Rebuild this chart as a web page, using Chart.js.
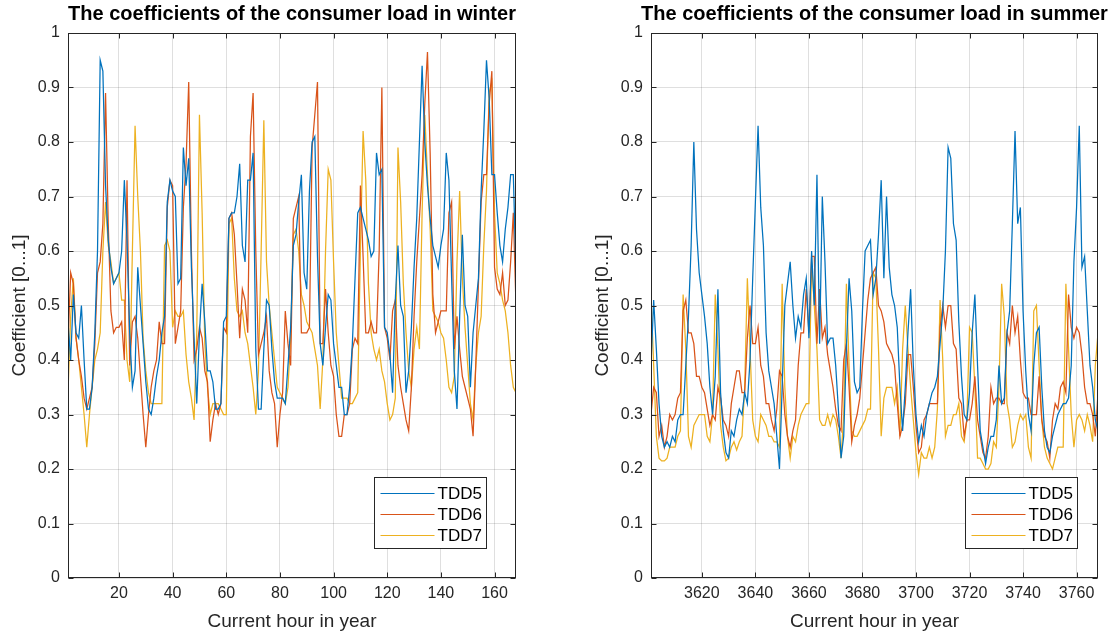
<!DOCTYPE html>
<html>
<head>
<meta charset="utf-8">
<script src="https://cdn.jsdelivr.net/npm/chart.js@4.4.0/dist/chart.umd.min.js"></script>
<style>
  html, body { margin: 0; padding: 0; background: #fff; }
  body { width: 1117px; height: 637px; position: relative; overflow: hidden; }
  .panel { position: absolute; top: 0; }
</style>
</head>
<body>
<div class="panel" style="left:0"><canvas id="winterChart" width="560" height="637"></canvas></div>
<div class="panel" style="left:560px"><canvas id="summerChart" width="557" height="637"></canvas></div>
<script>
// hourly load coefficients for one week of winter and one week of summer
const seriesNames = ['TDD5', 'TDD6', 'TDD7'];
const seriesColors = ['#0072BD', '#D95319', '#EDB120'];

const winterFirstHour = 1;
const summerFirstHour = 3601;

const winterTicks = [20, 40, 60, 80, 100, 120, 140, 160];
const summerTicks = [3620, 3640, 3660, 3680, 3700, 3720, 3740, 3760];
const yTicks = [0, 0.1, 0.2, 0.3, 0.4, 0.5, 0.6, 0.7, 0.8, 0.9, 1];
const yTickLabels = ['0', '0.1', '0.2', '0.3', '0.4', '0.5', '0.6', '0.7', '0.8', '0.9', '1'];

const winterTdd5 = [
  0.47, 0.40, 0.52, 0.45, 0.44, 0.50, 0.40, 0.31, 0.31, 0.35, 0.45, 0.60,
  0.95, 0.93, 0.72, 0.62, 0.57, 0.54, 0.55, 0.56, 0.60, 0.73, 0.62, 0.45,
  0.35, 0.38, 0.57, 0.50, 0.43, 0.36, 0.31, 0.30, 0.33, 0.37, 0.40, 0.45,
  0.48, 0.69, 0.73, 0.71, 0.70, 0.54, 0.55, 0.79, 0.72, 0.77, 0.57, 0.44,
  0.32, 0.45, 0.54, 0.47, 0.38, 0.38, 0.36, 0.31, 0.31, 0.32, 0.47, 0.48,
  0.66, 0.67, 0.67, 0.70, 0.76, 0.61, 0.58, 0.73, 0.73, 0.78, 0.42, 0.31,
  0.31, 0.42, 0.51, 0.50, 0.42, 0.36, 0.33, 0.33, 0.33, 0.32, 0.39, 0.46,
  0.61, 0.63, 0.69, 0.74, 0.56, 0.53, 0.71, 0.80, 0.81, 0.59, 0.43, 0.39,
  0.46, 0.52, 0.51, 0.43, 0.39, 0.35, 0.35, 0.30, 0.30, 0.35, 0.43, 0.55,
  0.67, 0.68, 0.66, 0.64, 0.62, 0.59, 0.60, 0.78, 0.74, 0.75, 0.46, 0.45,
  0.41, 0.34, 0.51, 0.61, 0.50, 0.48, 0.34, 0.38, 0.46, 0.57, 0.66, 0.80,
  0.94, 0.80, 0.72, 0.66, 0.61, 0.59, 0.57, 0.61, 0.64, 0.78, 0.73, 0.55,
  0.38, 0.31, 0.48, 0.63, 0.50, 0.48, 0.35, 0.45, 0.50, 0.55, 0.71, 0.82,
  0.95, 0.88, 0.74, 0.74, 0.67, 0.61, 0.58, 0.64, 0.68, 0.74, 0.74, 0.56
];
const winterTdd6 = [
  0.43, 0.56, 0.54, 0.44, 0.40, 0.37, 0.33, 0.31, 0.33, 0.35, 0.43, 0.56,
  0.58, 0.65, 0.89, 0.65, 0.49, 0.45, 0.46, 0.46, 0.47, 0.40, 0.73, 0.39,
  0.47, 0.48, 0.44, 0.37, 0.30, 0.24, 0.30, 0.35, 0.38, 0.40, 0.47, 0.43,
  0.43, 0.68, 0.73, 0.72, 0.43, 0.46, 0.49, 0.68, 0.76, 0.91, 0.60, 0.40,
  0.42, 0.46, 0.44, 0.38, 0.36, 0.25, 0.29, 0.32, 0.30, 0.32, 0.46, 0.45,
  0.66, 0.67, 0.63, 0.54, 0.44, 0.53, 0.51, 0.45, 0.81, 0.89, 0.60, 0.41,
  0.43, 0.45, 0.48, 0.38, 0.34, 0.32, 0.24, 0.30, 0.34, 0.49, 0.43, 0.39,
  0.66, 0.68, 0.70, 0.45, 0.45, 0.45, 0.46, 0.79, 0.85, 0.91, 0.43, 0.43,
  0.53, 0.45, 0.39, 0.37, 0.30, 0.26, 0.26, 0.30, 0.30, 0.32, 0.42, 0.44,
  0.43, 0.72, 0.59, 0.45, 0.45, 0.47, 0.45, 0.45, 0.60, 0.90, 0.46, 0.44,
  0.40, 0.49, 0.51, 0.39, 0.35, 0.32, 0.29, 0.27, 0.35, 0.48, 0.58, 0.66,
  0.74, 0.87, 0.965, 0.78, 0.52, 0.45, 0.47, 0.49, 0.49, 0.49, 0.67, 0.69,
  0.42, 0.48, 0.42, 0.37, 0.35, 0.33, 0.31, 0.26, 0.39, 0.54, 0.69, 0.74,
  0.74, 0.87, 0.93, 0.57, 0.53, 0.52, 0.56, 0.50, 0.51, 0.58, 0.67, 0.50
];
const winterTdd7 = [
  0.34, 0.48, 0.55, 0.44, 0.40, 0.35, 0.30, 0.24, 0.30, 0.35, 0.40, 0.42,
  0.45, 0.60, 0.69, 0.61, 0.58, 0.54, 0.55, 0.56, 0.51, 0.51, 0.40, 0.36,
  0.60, 0.83, 0.70, 0.60, 0.44, 0.38, 0.34, 0.32, 0.32, 0.32, 0.32, 0.32,
  0.61, 0.62, 0.60, 0.46, 0.49, 0.48, 0.48, 0.49, 0.41, 0.36, 0.33, 0.29,
  0.45, 0.85, 0.67, 0.43, 0.35, 0.30, 0.32, 0.32, 0.32, 0.31, 0.30, 0.30,
  0.65, 0.66, 0.55, 0.49, 0.48, 0.49, 0.45, 0.43, 0.39, 0.35, 0.30, 0.38,
  0.60, 0.84, 0.58, 0.50, 0.45, 0.40, 0.35, 0.34, 0.33, 0.32, 0.35, 0.44,
  0.63, 0.64, 0.60, 0.52, 0.50, 0.47, 0.46, 0.45, 0.42, 0.39, 0.31, 0.40,
  0.60, 0.75, 0.73, 0.58, 0.45, 0.39, 0.33, 0.33, 0.33, 0.32, 0.32, 0.33,
  0.34, 0.60, 0.82, 0.73, 0.54, 0.45, 0.42, 0.40, 0.42, 0.38, 0.36, 0.32,
  0.29, 0.30, 0.33, 0.79, 0.69, 0.54, 0.45, 0.38, 0.35, 0.42, 0.46, 0.42,
  0.67, 0.85, 0.74, 0.64, 0.49, 0.48, 0.47, 0.45, 0.44, 0.40, 0.35, 0.34,
  0.37, 0.58, 0.71, 0.55, 0.46, 0.39, 0.32, 0.29, 0.39, 0.45, 0.48, 0.61,
  0.71, 0.89, 0.91, 0.67, 0.56, 0.54, 0.51, 0.49, 0.45, 0.39, 0.35, 0.34
];

const summerTdd5 = [
  0.39, 0.51, 0.42, 0.32, 0.26, 0.24, 0.25, 0.24, 0.26, 0.25, 0.29, 0.30,
  0.30, 0.39, 0.48, 0.61, 0.80, 0.64, 0.56, 0.52, 0.48, 0.43, 0.35, 0.30,
  0.37, 0.53, 0.34, 0.27, 0.23, 0.22, 0.27, 0.26, 0.29, 0.31, 0.30, 0.34,
  0.32, 0.40, 0.55, 0.69, 0.83, 0.68, 0.61, 0.45, 0.38, 0.35, 0.32, 0.26,
  0.20, 0.35, 0.50, 0.54, 0.58, 0.50, 0.44, 0.48, 0.46, 0.52, 0.55, 0.44,
  0.60, 0.50, 0.74, 0.43, 0.70, 0.58, 0.43, 0.44, 0.44, 0.39, 0.31, 0.22,
  0.26, 0.42, 0.55, 0.49, 0.36, 0.34, 0.35, 0.49, 0.60, 0.61, 0.62, 0.52,
  0.55, 0.63, 0.73, 0.55, 0.70, 0.57, 0.52, 0.50, 0.46, 0.35, 0.27, 0.35,
  0.45, 0.53, 0.39, 0.30, 0.25, 0.28, 0.26, 0.30, 0.32, 0.34, 0.35, 0.37,
  0.43, 0.49, 0.60, 0.79, 0.77, 0.65, 0.62, 0.47, 0.37, 0.30, 0.29, 0.34,
  0.45, 0.52, 0.39, 0.27, 0.24, 0.21, 0.24, 0.26, 0.26, 0.29, 0.39, 0.32,
  0.33, 0.45, 0.49, 0.65, 0.82, 0.65, 0.68, 0.49, 0.38, 0.30, 0.27, 0.39,
  0.45, 0.46, 0.35, 0.27, 0.24, 0.23, 0.26, 0.28, 0.30, 0.31, 0.32, 0.32,
  0.33, 0.39, 0.58, 0.68, 0.83, 0.57, 0.59, 0.49, 0.39, 0.35, 0.29, 0.27
];
const summerTdd6 = [
  0.30, 0.35, 0.34, 0.26, 0.28, 0.24, 0.26, 0.30, 0.29, 0.30, 0.33, 0.34,
  0.49, 0.51, 0.45, 0.45, 0.43, 0.37, 0.37, 0.35, 0.34, 0.31, 0.28, 0.30,
  0.29, 0.35, 0.33, 0.29, 0.28, 0.26, 0.32, 0.35, 0.38, 0.38, 0.34, 0.34,
  0.44, 0.50, 0.43, 0.43, 0.46, 0.39, 0.37, 0.32, 0.32, 0.29, 0.27, 0.31,
  0.38, 0.37, 0.30, 0.26, 0.24, 0.27, 0.29, 0.39, 0.45, 0.45, 0.53, 0.45,
  0.59, 0.59, 0.43, 0.53, 0.44, 0.46, 0.41, 0.38, 0.35, 0.31, 0.28, 0.27,
  0.40, 0.43, 0.35, 0.25, 0.28, 0.30, 0.33, 0.39, 0.45, 0.51, 0.55, 0.56,
  0.57, 0.50, 0.49, 0.47, 0.43, 0.42, 0.41, 0.39, 0.32, 0.26, 0.28, 0.32,
  0.41, 0.41, 0.35, 0.28, 0.23, 0.24, 0.29, 0.30, 0.32, 0.32, 0.32, 0.32,
  0.46, 0.50, 0.46, 0.50, 0.50, 0.43, 0.42, 0.33, 0.32, 0.26, 0.29, 0.29,
  0.32, 0.37, 0.29, 0.26, 0.23, 0.22, 0.26, 0.35, 0.32, 0.33, 0.33, 0.32,
  0.32, 0.45, 0.43, 0.50, 0.45, 0.48, 0.40, 0.34, 0.33, 0.33, 0.30, 0.30,
  0.30, 0.37, 0.29, 0.26, 0.25, 0.22, 0.29, 0.32, 0.31, 0.35, 0.36, 0.34,
  0.52, 0.46, 0.44, 0.46, 0.45, 0.41, 0.35, 0.32, 0.32, 0.30, 0.26, 0.34
];
const summerTdd7 = [
  0.52, 0.39, 0.26, 0.22, 0.215, 0.215, 0.22, 0.24, 0.24, 0.24, 0.26, 0.27,
  0.52, 0.42, 0.26, 0.24, 0.28, 0.29, 0.30, 0.30, 0.30, 0.26, 0.25, 0.30,
  0.52, 0.42, 0.28, 0.24, 0.215, 0.22, 0.24, 0.25, 0.235, 0.25, 0.26, 0.35,
  0.55, 0.42, 0.29, 0.26, 0.25, 0.30, 0.29, 0.28, 0.26, 0.26, 0.25, 0.25,
  0.24, 0.54, 0.35, 0.26, 0.22, 0.26, 0.25, 0.28, 0.30, 0.31, 0.32, 0.32,
  0.58, 0.50, 0.42, 0.29, 0.28, 0.28, 0.30, 0.28, 0.30, 0.29, 0.26, 0.22,
  0.30, 0.54, 0.39, 0.27, 0.26, 0.26, 0.27, 0.28, 0.29, 0.31, 0.31, 0.56,
  0.55, 0.42, 0.26, 0.33, 0.35, 0.35, 0.35, 0.32, 0.35, 0.26, 0.42, 0.50,
  0.42, 0.35, 0.29, 0.23, 0.19, 0.23, 0.22, 0.22, 0.24, 0.22, 0.24, 0.31,
  0.51, 0.40, 0.26, 0.28, 0.28, 0.30, 0.30, 0.32, 0.26, 0.25, 0.29, 0.46,
  0.45, 0.35, 0.22, 0.22, 0.21, 0.20, 0.20, 0.21, 0.25, 0.24, 0.35, 0.54,
  0.48, 0.32, 0.29, 0.24, 0.25, 0.28, 0.30, 0.29, 0.30, 0.24, 0.22, 0.49,
  0.50, 0.39, 0.29, 0.24, 0.22, 0.21, 0.20, 0.22, 0.24, 0.24, 0.24, 0.54,
  0.42, 0.30, 0.24, 0.29, 0.30, 0.29, 0.27, 0.30, 0.28, 0.25, 0.39, 0.45
];

const FONT = '"Liberation Sans", Arial, Helvetica, sans-serif';
const AXIS_COLOR = '#262626';
Chart.defaults.font.family = FONT;
Chart.defaults.color = AXIS_COLOR;

// box, inward ticks, bold title and the legend in the lower right corner
const framePlugin = {
  id: 'frame',
  afterDraw(chart, args, opts) {
    const { ctx, chartArea: a, scales: { x, y } } = chart;
    const L = Math.round(a.left) + 0.5, R = Math.round(a.right) - 0.5;
    const T = Math.round(a.top) + 0.5, B = Math.round(a.bottom) - 0.5;
    ctx.save();
    ctx.strokeStyle = AXIS_COLOR;
    ctx.lineWidth = 1;
    ctx.strokeRect(L, T, R - L, B - T);
    const len = 5;
    ctx.beginPath();
    x.ticks.forEach(t => {
      const px = Math.round(x.getPixelForValue(t.value)) + 0.5;
      ctx.moveTo(px, B); ctx.lineTo(px, B - len);
      ctx.moveTo(px, T); ctx.lineTo(px, T + len);
    });
    y.ticks.forEach(t => {
      const py = Math.round(y.getPixelForValue(t.value)) + 0.5;
      ctx.moveTo(L, py); ctx.lineTo(L + len, py);
      ctx.moveTo(R, py); ctx.lineTo(R - len, py);
    });
    ctx.stroke();

    ctx.fillStyle = '#000';
    ctx.font = 'bold 20px ' + FONT;
    ctx.textAlign = 'center';
    ctx.textBaseline = 'middle';
    ctx.fillText(opts.title, (a.left + a.right) / 2, 14);

    // legend
    const w = 112, h = 71;
    const lx = Math.round(a.right) - opts.legendGap - w + 0.5;
    const ly = Math.round(a.bottom) - 30 - h + 0.5;
    ctx.fillStyle = '#fff';
    ctx.fillRect(lx, ly, w, h);
    ctx.strokeStyle = AXIS_COLOR;
    ctx.strokeRect(lx, ly, w, h);
    ctx.font = '17px ' + FONT;
    ctx.textAlign = 'left';
    chart.data.datasets.forEach((ds, i) => {
      const cy = Math.round(ly + 15 + i * 21) + 0.5;
      ctx.strokeStyle = ds.borderColor;
      ctx.lineWidth = 1.2;
      ctx.beginPath();
      ctx.moveTo(lx + 6, cy); ctx.lineTo(lx + 60, cy);
      ctx.stroke();
      ctx.fillStyle = '#000';
      ctx.fillText(ds.label, lx + 63, cy + 1);
    });
    ctx.restore();
  }
};

function buildChart(canvasId, title, firstHour, tickValues, values, box) {
  const datasets = values.map((vals, i) => ({
    label: seriesNames[i],
    data: vals.map((v, k) => ({ x: firstHour + k, y: v })),
    borderColor: seriesColors[i],
    borderWidth: 1.25,
    pointRadius: 0,
    tension: 0,
    fill: false
  }));
  return new Chart(document.getElementById(canvasId), {
    type: 'line',
    data: { datasets },
    plugins: [framePlugin],
    options: {
      responsive: false,
      animation: false,
      devicePixelRatio: 1,
      layout: { padding: { top: 33, right: box.padRight, left: 0, bottom: 0 } },
      plugins: {
        legend: { display: false },
        tooltip: { enabled: false },
        frame: { title, legendGap: box.legendGap }
      },
      scales: {
        x: {
          type: 'linear',
          min: firstHour,
          max: firstHour + values[0].length - 1,
          afterBuildTicks: s => { s.ticks = tickValues.map(v => ({ value: v })); },
          afterFit: s => { s.height = 59; },
          grid: { color: 'rgba(38,38,38,0.15)', drawTicks: false },
          border: { display: false },
          ticks: {
            font: { size: 16 }, color: AXIS_COLOR, padding: 6, maxRotation: 0, autoSkip: false,
            callback: v => String(v)
          },
          title: { display: true, text: 'Current hour in year', font: { size: 19 }, color: AXIS_COLOR, padding: { top: 0, bottom: 4 } }
        },
        y: {
          min: 0,
          max: 1,
          afterBuildTicks: s => { s.ticks = yTicks.map(v => ({ value: v })); },
          afterFit: s => { s.width = box.yWidth; },
          grid: { color: 'rgba(38,38,38,0.15)', drawTicks: false },
          border: { display: false },
          ticks: {
            font: { size: 16 }, color: AXIS_COLOR, padding: 8, autoSkip: false,
            callback: (v, i) => yTickLabels[i]
          },
          title: { display: true, text: 'Coefficient [0...1]', font: { size: 19 }, color: AXIS_COLOR, padding: { top: box.titlePad, bottom: 0 } }
        }
      }
    }
  });
}

buildChart('winterChart', 'The coefficients of the consumer load in winter', winterFirstHour, winterTicks,
  [winterTdd5, winterTdd6, winterTdd7], { yWidth: 68, padRight: 44, titlePad: 8, legendGap: 30 });
buildChart('summerChart', 'The coefficients of the consumer load in summer', summerFirstHour, summerTicks,
  [summerTdd5, summerTdd6, summerTdd7], { yWidth: 91, padRight: 19, titlePad: 31, legendGap: 21 });
</script>
</body>
</html>
